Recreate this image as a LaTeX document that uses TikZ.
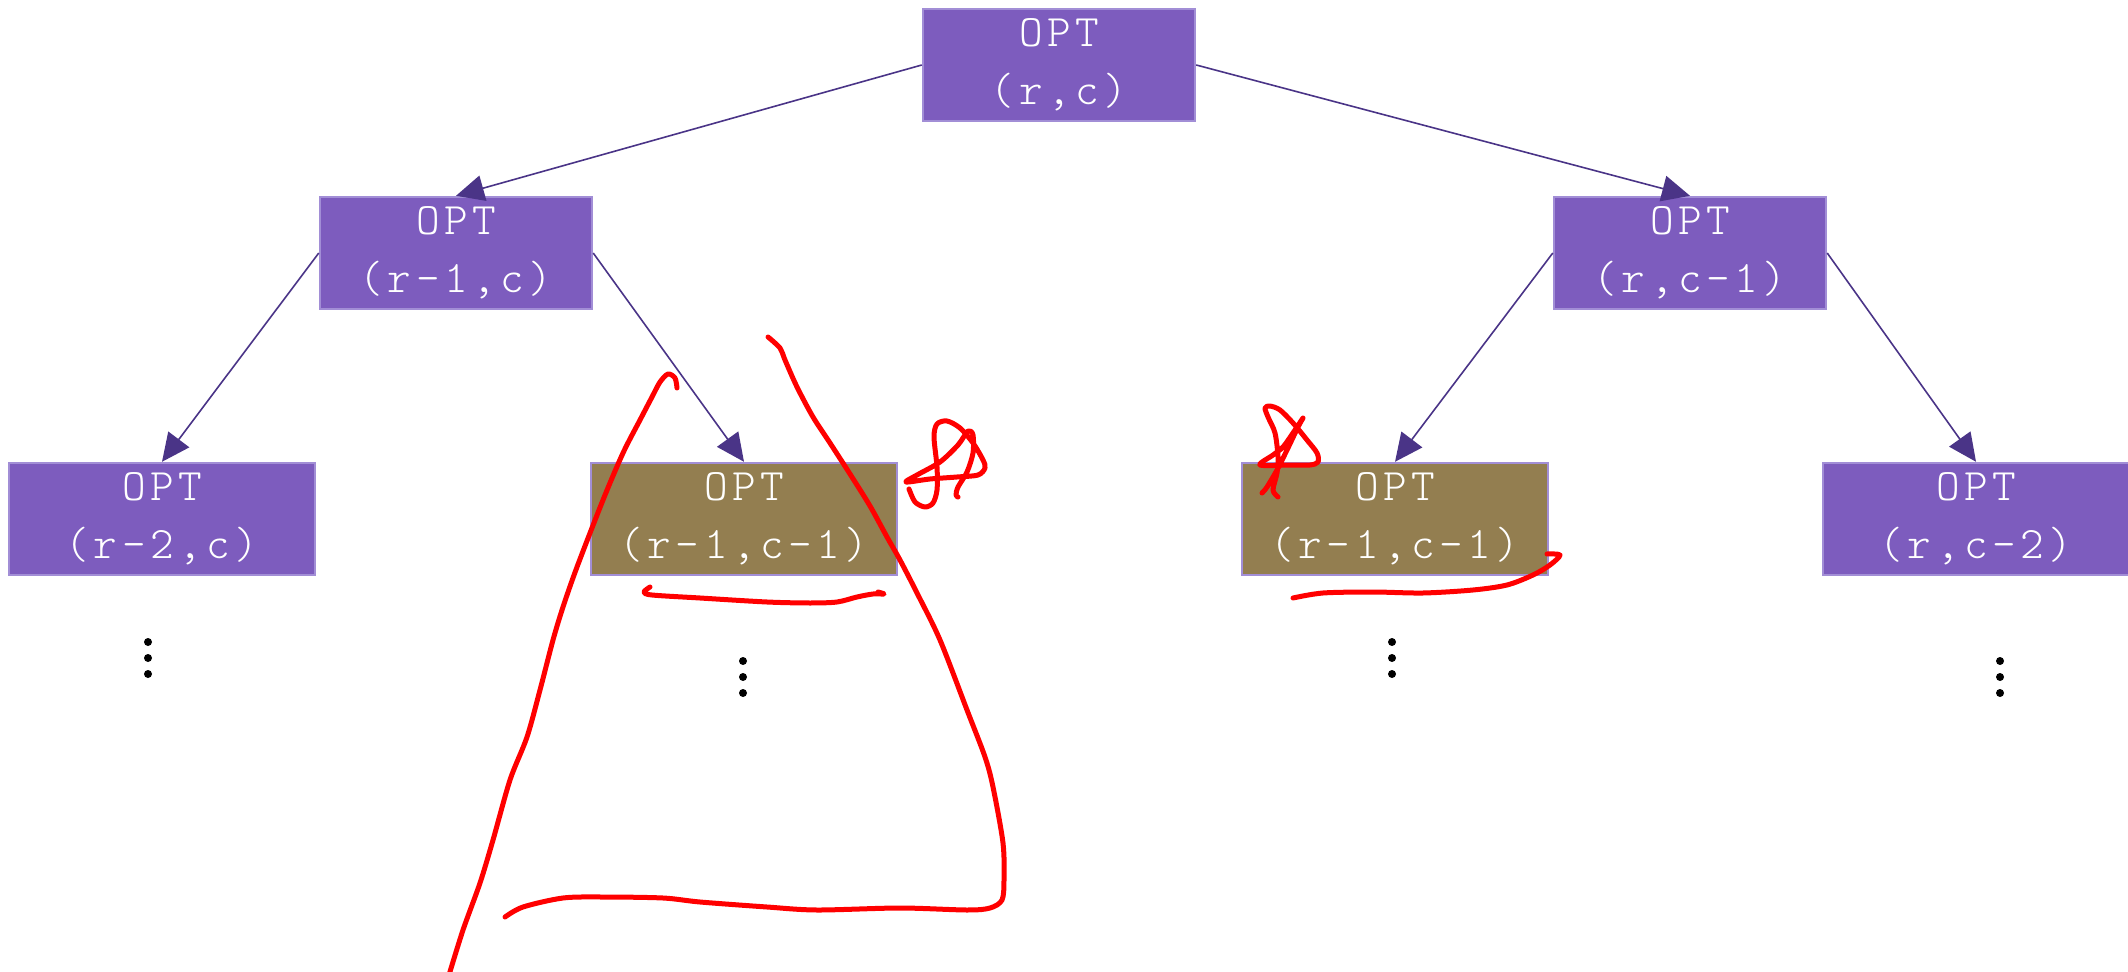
\documentclass[tikz,border=0pt]{standalone}
\usepackage{fontspec}
\usetikzlibrary{arrows.meta}
\newfontfamily\codefont[LetterSpace=10]{Latin Modern Mono Light}
\definecolor{optfill}{RGB}{125,92,190}
\definecolor{optborder}{RGB}{162,142,214}
\definecolor{optbrown}{RGB}{147,126,80}
\definecolor{edgecol}{RGB}{74,52,135}
\definecolor{inkred}{RGB}{255,0,0}
\tikzset{
  opt/.style={draw=optborder, line width=1.2pt, fill=optfill, text=white,
    font=\codefont\fontsize{22.5}{29}\selectfont, align=center,
    minimum width=136pt, minimum height=56pt, inner sep=0pt},
  leaf/.style={opt, minimum width=153pt},
  solved/.style={leaf, fill=optbrown},
  edge/.style={draw=edgecol, line width=0.8pt, -{Triangle[length=14pt,width=13pt]}},
  dot/.style={fill=black},
  scribble/.style={draw=inkred, line width=2.5pt, line cap=round, line join=round}
}
\begin{document}
\begin{tikzpicture}[x=0.5pt,y=-0.5pt]
\useasboundingbox (0,0) rectangle (2128,972);

% recursion tree
\node[opt]    (root) at (1059,65)  {OPT\\(r,c)};
\node[opt]    (up)   at (456,253)  {OPT\\(r-1,c)};
\node[opt]    (left) at (1690,253) {OPT\\(r,c-1)};
\node[leaf]   (uu)   at (162,519)  {OPT\\(r-2,c)};
\node[solved] (ul)   at (744,519)  {OPT\\(r-1,c-1)};
\node[solved] (lu)   at (1395,519) {OPT\\(r-1,c-1)};
\node[leaf]   (ll)   at (1976,519) {OPT\\(r,c-2)};

\draw[edge] (root.west) -- (up.north);
\draw[edge] (root.east) -- (left.north);
\draw[edge] (up.west)   -- (uu.north);
\draw[edge] (up.east)   -- (ul.north);
\draw[edge] (left.west) -- (lu.north);
\draw[edge] (left.east) -- (ll.north);

% subtrees continue below
\foreach \x/\y in {148/642, 743/661, 1392/642, 2000/661}{
  \foreach \k in {0,1,2}{
    \fill[dot] (\x,\y+16*\k) circle (4);
  }
}

% hand-drawn marks: the repeated subproblem and its subtree
\draw[scribble] plot[smooth, tension=0.5] coordinates {
  (449,975) (463,930) (480,883) (493,840) (510,780) (527,737) (540,690)
  (553,640) (563,607) (577,567) (603,500) (623,453) (640,420) (652,397)
  (660,382) (668,374) (675,378) (677,388)};
\draw[scribble] plot[smooth, tension=0.5] coordinates {
  (768,337) (780,348) (785,360) (797,387) (813,417) (830,443) (850,474)
  (870,506) (887,537) (900,560) (917,593) (940,640) (967,710) (985,757)
  (993,787) (1003,843) (1004,880) (1002,900) (990,908) (967,910) (900,908)
  (817,910) (767,907) (700,902) (663,898) (603,897) (563,898) (523,907)
  (505,917)};
\draw[scribble] plot[smooth, tension=0.5] coordinates {
  (650,587) (644,592) (652,595) (700,598) (767,602) (810,603) (837,602)
  (857,597) (873,594) (884,594) (878,592)};
\draw[scribble] plot[smooth, tension=0.5] coordinates {
  (909,489) (915,502) (925,507) (933,503) (937,490) (937,467) (934,437)
  (937,424) (947,421) (960,428) (973,443) (983,460) (985,468) (978,475)
  (957,477) (930,479) (906,482) (917,475) (940,462) (958,445) (968,431)
  (973,435) (973,453) (967,472) (958,487) (956,495) (958,497)};

% hand-drawn marks on the second copy
\draw[scribble] plot[smooth, tension=0.5] coordinates {
  (1278,497) (1273,490) (1277,473) (1278,457) (1275,433) (1268,417)
  (1265,408) (1270,406) (1280,410) (1293,423) (1307,440) (1317,453)
  (1318,462) (1310,465) (1290,465) (1260,465) (1273,455) (1283,447)
  (1295,430) (1303,418) (1298,427) (1287,450) (1277,470) (1267,487)
  (1262,493)};
\draw[scribble] plot[smooth, tension=0.5] coordinates {
  (1293,598) (1323,593) (1373,592) (1423,593) (1473,590) (1507,585)
  (1533,575) (1550,565) (1560,555) (1547,554)};
\end{tikzpicture}
\end{document}
